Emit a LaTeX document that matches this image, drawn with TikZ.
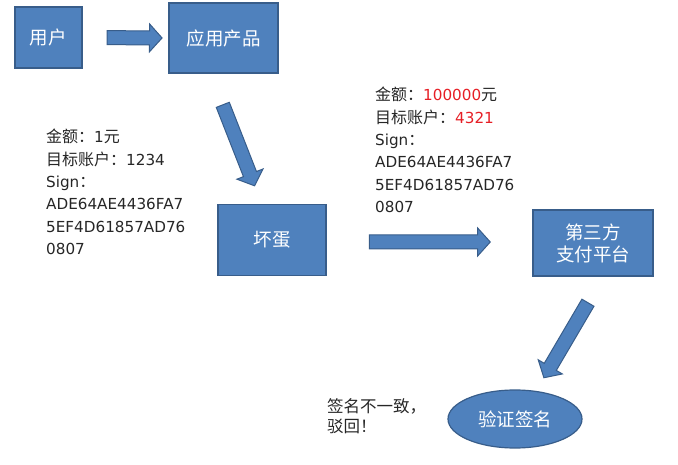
\documentclass[tikz,border=0pt]{standalone}
\usepackage{fontspec}
\setmainfont{DejaVu Sans}[Scale=0.95]
\newfontfamily\cjk{Noto Sans CJK SC}
\usepackage{xcolor}
\usepackage{tikz}
\usetikzlibrary{shapes.geometric}
\usetikzlibrary{shapes.arrows}
\definecolor{boxblue}{HTML}{4F81BD}
\definecolor{boxline}{HTML}{385D8A}
\definecolor{alert}{HTML}{E61E25}
\newcommand{\zh}[1]{{\cjk #1}}

\begin{document}
\begin{tikzpicture}[x=1pt, y=-1pt,
    % Define box look
    my box/.style={rectangle, draw=boxline, fill=boxblue, line width=1.2pt, text=white,
      font=\fontsize{18.5}{22}\selectfont\cjk, align=center, inner sep=0pt},
    % Fat block arrow, placed on the path between two boxes
    fat arrow/.style={single arrow, draw=boxline, fill=boxblue, line width=1pt,
      inner xsep=0pt, inner ysep=6.5pt, single arrow head extend=7pt,
      single arrow tip angle=96, sloped, allow upside down, minimum height=#1},
    % Plain text notes
    note/.style={anchor=north west, align=left, inner sep=0pt, text=black!85,
      font=\fontsize{16}{22.4}\selectfont}
  ]
  \useasboundingbox (0,0) rectangle (678,465);

  % --- Node Definitions ---
  \node[my box, minimum width=67pt, minimum height=61pt] (user) at (48.5,37.5) {用户};
  \node[my box, minimum width=109pt, minimum height=70pt] (app) at (223.5,38) {应用产品};
  \node[my box, minimum width=108pt, minimum height=71pt] (bad) at (272,240) {坏蛋};
  \node[my box, minimum width=120pt, minimum height=66pt] (pay) at (593,243) {第三方\\支付平台};
  \node[my box, ellipse, minimum width=134pt, minimum height=58pt] (verify) at (515,419) {验证签名};

  \node[note] (orig) at (46,129) {\zh{金额：}1\zh{元}\\
    \zh{目标账户：}1234\\
    Sign\zh{：}\\
    ADE64AE4436FA7\\
    5EF4D61857AD76\\
    0807};
  \node[note] (fake) at (375,87) {\zh{金额：}\textcolor{alert}{100000}\zh{元}\\
    \zh{目标账户：}\textcolor{alert}{4321}\\
    Sign\zh{：}\\
    ADE64AE4436FA7\\
    5EF4D61857AD76\\
    0807};
  \node[note, font=\fontsize{16.5}{20}\selectfont\cjk] (reject) at (327,398) {签名不一致，\\驳回！};

  % --- Arrow Definitions ---
  \path (user.east) -- node[fat arrow=55pt, pos=0.569] (a1) {} (app.west);
  \path (app.250) -- node[fat arrow=87pt, pos=0.528] (a2) {} (bad.106);
  \path ([yshift=-2pt]bad.east) -- node[fat arrow=121pt, pos=0.486] (a3) {} ([yshift=-2pt]bad.east -| pay.west);
  \path (pay.287) -- node[fat arrow=87pt, pos=0.533] (a4) {} (verify.53);

\end{tikzpicture}
\end{document}
